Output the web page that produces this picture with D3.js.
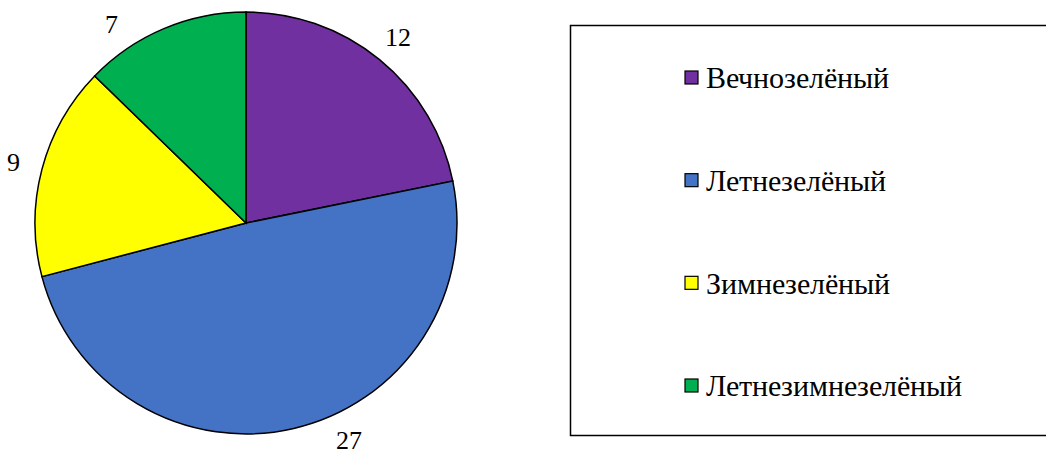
<!DOCTYPE html>
<html lang="ru">
<head>
<meta charset="utf-8">
<script src="https://cdn.jsdelivr.net/npm/d3@7"></script>
<style>
  @font-face {
    font-family: 'ChartSerif';
    src: local('Liberation Serif'), local('LiberationSerif'), local('Liberation Serif Regular'), local('Tinos'), local('Times New Roman');
  }
  body { margin: 0; background: #fff; }
</style>
</head>
<body>
<script>
// data
const categories = ['Вечнозелёный', 'Летнезелёный', 'Зимнезелёный', 'Летнезимнезелёный'];
const values = [12, 27, 9, 7];
const colors = ['#7030A0', '#4472C4', '#FFFF00', '#00B050'];

const width = 1046, height = 450;
const cx = 246, cy = 223, radius = 211;
const labelR = 240;
const serif = "ChartSerif, 'Liberation Serif', 'Times New Roman', serif";

const svg = d3.select('body').append('svg')
  .attr('width', width)
  .attr('height', height)
  .style('font-family', serif);

const pie = d3.pie().sort(null).value(d => d)(values);
const arc = d3.arc().innerRadius(0).outerRadius(radius);

const g = svg.append('g').attr('transform', `translate(${cx},${cy})`);

g.selectAll('path')
  .data(pie)
  .enter().append('path')
  .attr('d', arc)
  .style('fill', (d, i) => colors[i])
  .style('stroke', '#000')
  .style('stroke-width', 1.5);

// label position: mid angle, nudged along the circle so it stays inside the page
const yMin = 24 - cy, yMax = 440 - cy;
function labelPos(d) {
  let a = (d.startAngle + d.endAngle) / 2;
  let y = -labelR * Math.cos(a);
  if (y > yMax) {
    const lim = Math.acos(-yMax / labelR);
    a = a < Math.PI ? Math.min(a, lim) : Math.max(a, 2 * Math.PI - lim);
  } else if (y < yMin) {
    const lim = Math.acos(-yMin / labelR);
    a = a < Math.PI ? Math.max(a, lim) : Math.min(a, 2 * Math.PI - lim);
  }
  return [labelR * Math.sin(a), -labelR * Math.cos(a)];
}

g.selectAll('text.lbl')
  .data(pie)
  .enter().append('text')
  .attr('class', 'lbl')
  .attr('transform', d => `translate(${labelPos(d)})`)
  .attr('text-anchor', 'middle')
  .attr('dy', '0.33em')
  .style('font-family', serif)
  .style('font-size', '26px')
  .text(d => d.data);

// legend
const legend = svg.append('g');
legend.append('rect')
  .attr('x', 570.5).attr('y', 25.5)
  .attr('width', 480).attr('height', 410)
  .style('fill', '#fff')
  .style('stroke', '#000')
  .style('stroke-width', 1.5);

const rowY = d3.scalePoint().domain(categories).range([78, 386]);

const item = legend.selectAll('g.item')
  .data(categories)
  .enter().append('g')
  .attr('class', 'item')
  .attr('transform', d => `translate(685,${rowY(d)})`);

item.append('rect')
  .attr('x', 0).attr('y', -7)
  .attr('width', 13).attr('height', 13)
  .style('fill', (d, i) => colors[i])
  .style('stroke', '#000')
  .style('stroke-width', 1.2);

item.append('text')
  .attr('x', 21)
  .attr('dy', '0.34em')
  .style('font-family', serif)
  .style('font-size', '30px')
  .text(d => d);
</script>
</body>
</html>
